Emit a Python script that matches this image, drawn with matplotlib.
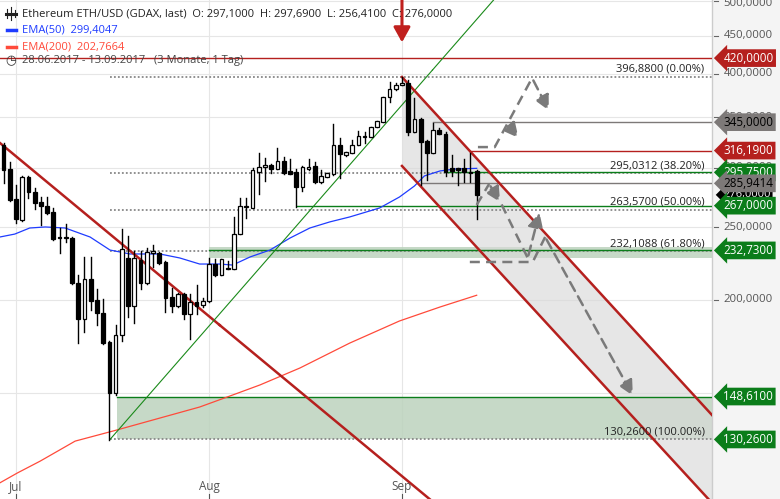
import matplotlib
matplotlib.use("Agg")
import matplotlib.pyplot as plt
from matplotlib.patches import Rectangle
from matplotlib.lines import Line2D

plt.rcParams['font.family'] = ['Open Sans', 'DejaVu Sans']

# ---- data: daily candles (day 0 = 1 Jul 2017), first = 29 Jun ----
start_day = -2
opens  = [321.7,298.8,272.5,255.5,291.6,278.4,270.0,266.7,261.9,242.5,241.7,241.7,210.5,188.5,213.2,199.8,192.0,175.6,150.2,179.4,
          227.4,196.2,226.0,210.5,230.9,230.9,224.6,201.7,196.2,203.6,191.4,198.6,196.8,199.2,223.2,215.8,220.5,219.8,244.7,265.9,
          265.1,296.1,300.7,302.5,298.8,306.2,297.0,296.1,282.8,298.8,301.6,287.2,291.6,294.3,321.7,311.9,313.8,321.7,329.7,329.7,
          340.0,345.2,372.7,382.0,386.7,389.1,334.8,348.4,325.6,313.8,336.8,332.7,299.8,299.8,299.8,296.1,297.1]
highs  = [323.6,305.3,284.5,292.5,292.5,281.9,274.2,274.2,265.1,249.3,252.4,242.5,215.8,228.1,228.1,206.7,200.4,176.0,185.1,248.6,
          243.2,232.3,232.3,234.4,236.6,231.6,225.3,207.5,204.0,204.0,203.6,209.3,201.1,227.4,226.7,227.0,225.3,257.9,273.4,273.4,
          299.8,313.8,309.1,303.0,318.7,310.0,308.1,298.8,301.6,308.1,305.3,297.9,295.5,343.1,328.7,315.0,326.6,335.8,334.8,340.3,
          346.6,373.0,390.5,389.1,396.3,392.7,371.6,349.4,326.6,344.2,339.2,334.8,311.9,300.1,308.1,313.8,297.69]
lows   = [286.3,270.9,253.2,254.7,273.4,264.3,251.6,260.2,240.0,230.9,238.8,210.0,175.1,181.1,193.8,185.1,174.5,130.0,149.3,176.2,
          189.7,186.2,206.7,209.8,221.2,223.2,192.6,192.6,195.8,188.5,177.2,191.4,195.6,198.8,215.2,215.5,219.5,219.5,244.4,257.1,
          264.8,276.7,288.1,295.2,298.5,294.3,294.0,265.9,279.3,297.9,286.3,286.5,291.3,293.8,290.7,311.0,313.5,321.4,323.6,329.4,
          339.7,344.9,367.1,381.0,386.4,331.7,334.5,284.5,288.9,313.5,332.5,292.5,292.5,284.5,287.2,287.2,256.41]
closes = [297.9,271.7,256.3,291.6,278.4,269.2,266.7,261.1,241.0,241.7,242.5,210.5,188.5,213.2,199.2,192.0,175.1,150.2,179.4,233.7,
          196.2,227.4,210.5,231.6,232.3,223.9,201.1,196.2,203.6,191.4,198.6,196.2,199.2,223.2,215.8,226.7,219.8,244.7,266.7,266.3,
          297.9,300.7,302.5,298.8,306.2,295.2,294.3,282.8,300.7,300.7,287.2,292.5,295.2,321.7,312.9,314.8,321.7,330.7,330.7,340.0,
          346.3,372.7,382.0,386.7,389.1,334.8,348.4,324.6,313.8,336.8,332.7,296.1,297.0,297.9,296.1,295.2,276.0]

ema50_days  = [-2.6,-0.2,2.2,4.7,7.9,11.9,15.1,18.3,23.1,26.3,29.5,32.7,34.8,37.6,40.8,44.0,47.2,50.4,53.6,58.4,61.6,64.0,65.6,68.1,70.5,74.0]
ema50_vals  = [242.5,244.7,249.3,250.1,249.3,242.5,233.0,230.2,230.2,227.4,223.2,223.2,222.5,228.1,233.0,241.7,249.3,254.0,257.9,265.1,274.2,283.6,292.5,297.0,298.8,299.4]
ema200_days = [-2.6,0.2,3.9,9.5,16.2,23.1,29.5,34.8,39.2,45.6,53.6,61.6,68.1,74.0]
ema200_vals = [114.0,117.5,121.9,129.6,134.1,139.1,143.9,149.3,154.0,162.2,175.1,187.4,195.6,202.8]

fib_levels = [396.88, 295.0312, 263.57, 232.1088, 130.26]
fib_labels = ["396,8800 (0.00%)", "295,0312 (38.20%)", "263,5700 (50.00%)", "232,1088 (61.80%)", "130,2600 (100.00%)"]

# level, color, start day
level_vals   = [420.0, 345.0, 316.19, 295.75, 285.9414, 267.0, 232.73, 148.61, 130.26]
level_colors = ['red', 'grey', 'red', 'green', 'grey', 'green', 'green', 'green', 'green']
level_starts = [-3, 67.0, 72.9, 69.2, 65.2, 45.1, 31.0, 16.2, None]
level_texts  = ["420,0000", "345,0000", "316,1900", "295,7500", "285,9414", "267,0000", "232,7300", "148,6100", "130,2600"]

axis_ticks = [500, 450, 400, 350, 300, 250, 200]
months = ["Jul", "Aug", "Sep"]
month_days = [0, 31, 62]

# trend lines (day, price)
down_trend = ([-2.57, 32.7], [323.6, 185.1])
up_trend = ([15.1, 66.9], [130.26, 404.9])
chan_upper = ([62.0, 111.8], [396.3, 140.4])
chan_lower = ([62.0, 111.8], [301.6, 107.2])

path_a = ([74.2, 76.9, 82.9], [319.6, 319.6, 395.1]); arrow_a = ((82.9, 395.1), (85.8, 354.9))
arrow_a2 = ((78.9, 343.1), (81.0, 326.6))
path_b = ([74.0, 76.0], [267.6, 285.4]); arrow_b = ((76.0, 285.4), (78.0, 268.0))
path_b2 = ([78.0, 82.2], [268.0, 227.4]); arrow_b2 = ((82.2, 227.4), (84.2, 263.5))
path_c = ([72.9, 83.0, 85.0], [224.6, 224.6, 242.5]); arrow_c = ((85.0, 242.5), (99.3, 147.9))

RED = '#b5201e'; GREEN = '#0b7d1a'; GREY = '#7d7978'
cmap = {'red': RED, 'green': GREEN, 'grey': GREY}

W, H = 780, 499
fig = plt.figure(figsize=(W/100, H/100), dpi=100, facecolor='#f4f4f4')
ax = fig.add_axes([0, 0, 712/W, 1])
ax.set_yscale('log')
ax.set_xlim(-2.57, 111.8)
ax.set_ylim(108.5, 502)
ax.axis('off')
ax.add_patch(Rectangle((0, 0), 1, 1, transform=ax.transAxes, facecolor='white', zorder=-10))

for g in [150, 200, 250, 300, 350, 400, 450, 500]:
    ax.axhline(g, color='#e6e6e6', lw=0.8, zorder=0)
for d in month_days:
    ax.axvline(d, color='#e6e6e6', lw=0.8, zorder=0)

xmax = 111.8
ax.add_patch(Rectangle((31.0, 227.4), xmax - 31.0, 235.5 - 227.4, facecolor='#bcd3bd', alpha=0.85, zorder=1))
ax.add_patch(Rectangle((16.2, 130.26), xmax - 16.2, 148.61 - 130.26, facecolor='#bcd3bd', alpha=0.85, zorder=1))
ax.fill_between(chan_upper[0], chan_upper[1], chan_lower[1], color='#d9d9d9', alpha=0.65, zorder=1, lw=0)

for lv, lb in zip(fib_levels, fib_labels):
    ax.plot([15.1, xmax], [lv, lv], color='#888888', ls=(0, (1, 1.2)), lw=1.3, zorder=2)
    ax.text(110.6, lv * 1.006, lb, ha='right', va='bottom', fontsize=8, color='#222222', zorder=6)

for lv, c, s in zip(level_vals, level_colors, level_starts):
    if s is None:
        continue
    ax.plot([s, xmax], [lv, lv], color=cmap[c], lw=1.0, zorder=3)

ax.plot(ema50_days, ema50_vals, color='#1f3cff', lw=0.9, zorder=4)
ax.plot(ema200_days, ema200_vals, color='#ff4a3a', lw=0.9, zorder=4)

ax.plot(*down_trend, color=RED, lw=1.8, zorder=4)
ax.plot([32.7, 80], [185.1, 185.1 * (185.1 / 323.6) ** ((80 - 32.7) / 35.27)], color=RED, lw=1.8, zorder=4)
ax.plot(*up_trend, color='#1a8a1a', lw=0.8, zorder=4)
ax.plot([66.9, 80], [404.9, 404.9 * (404.9 / 130.26) ** (13.1 / 51.8)], color='#1a8a1a', lw=0.8, zorder=4)
ax.plot(*chan_upper, color=RED, lw=1.8, zorder=5)
ax.plot(*chan_lower, color=RED, lw=1.8, zorder=5)

for i, (o, h, l, c) in enumerate(zip(opens, highs, lows, closes)):
    x = start_day + i
    ax.plot([x, x], [l, h], color='black', lw=1.0, zorder=6)
    lo, hi = min(o, c), max(o, c)
    if hi / lo < 1.004:
        hi = lo * 1.004
    face = 'black' if c < o else 'white'
    ax.add_patch(Rectangle((x - 0.3, lo), 0.6, hi - lo, facecolor=face, edgecolor='black', lw=0.9, zorder=7))

dash = dict(color='#7a7a7a', lw=1.8, ls=(0, (4, 2.5)), zorder=8)
aprops = dict(arrowstyle='-|>,head_width=0.45,head_length=0.9', color='#7a7a7a', lw=1.8, ls=(0, (4, 2.5)))
ax.plot(*path_a, **dash)
ax.plot(*path_b, **dash)
ax.plot(*path_b2, **dash)
ax.plot(*path_c, **dash)
for s, e in [arrow_a, arrow_a2, arrow_b, arrow_b2, arrow_c]:
    ax.annotate('', xy=e, xytext=s, arrowprops=aprops, zorder=8)

ax.annotate('', xy=(62.0, 437), xytext=(62.0, 520),
            arrowprops=dict(arrowstyle='-|>,head_width=0.5,head_length=0.9', color='#c0201e', lw=2.2), zorder=9)

# right panel
ytr = ax.get_yaxis_transform()
ax.plot([1, 1], [0, 1], transform=ax.transAxes, color='#cccccc', lw=1, clip_on=False)
for t in axis_ticks:
    ax.plot([1.003, 1.009], [t, t], transform=ytr, color='#666666', lw=0.8, clip_on=False)
    ax.text(1.016, t * (0.994 if t == 500 else 1.0), f"{t},0000", transform=ytr, fontsize=8.2, color='#555555',
            va='center', ha='left', clip_on=False, zorder=10)
ax.text(1.016, 276.0, "276,0000", transform=ytr, fontsize=8, color='white', va='center', ha='left', clip_on=False,
        zorder=10, bbox=dict(boxstyle='larrow,pad=0.15', fc='black', ec='none'))
for lv, c, tx in zip(level_vals, level_colors, level_texts):
    tc = 'black' if c == 'grey' else 'white'
    ax.text(1.016, lv, tx, transform=ytr, fontsize=8.4, color=tc, va='center', ha='left', clip_on=False, zorder=11,
            bbox=dict(boxstyle='larrow,pad=0.2', fc=cmap[c], ec='none'))

xtr = ax.get_xaxis_transform()
for d, m in zip(month_days, months):
    ax.text(d, 0.025, m, transform=xtr, ha='center', va='center', fontsize=8.5, color='#555555', zorder=10)
    ax.plot([d, d], [0, 0.01], transform=xtr, color='#555555', lw=0.8)

# legend (candle icon drawn as small strokes)
for k, (yb, yt) in enumerate([(0.963, 0.982), (0.960, 0.985), (0.965, 0.980)]):
    fig.add_artist(Line2D([0.009 + k * 0.005] * 2, [yb, yt], color='#222222', lw=0.8))
    fig.add_artist(Line2D([0.0075 + k * 0.005, 0.0105 + k * 0.005], [(yb + yt) / 2] * 2, color='#222222', lw=2.2))
fig.text(0.028, 0.972, "Ethereum ETH/USD (GDAX, last)  O: 297,1000  H: 297,6900  L: 256,4100  C: 276,0000",
         fontsize=8, color='#222222', va='center')
fig.add_artist(Line2D([0.009, 0.02], [0.939, 0.939], color='#1f3cff', lw=2.5))
fig.text(0.028, 0.939, "EMA(50)  299,4047", fontsize=8, color='#1f3cff', va='center')
fig.add_artist(Line2D([0.009, 0.02], [0.906, 0.906], color='#ff4a3a', lw=2.5))
fig.text(0.028, 0.906, "EMA(200)  202,7664", fontsize=8, color='#ff4a3a', va='center')
fig.text(0.007, 0.878, "◷", fontsize=9, color='#333333', va='center', family='DejaVu Sans')
fig.text(0.028, 0.878, "28.06.2017 - 13.09.2017   (3 Monate, 1 Tag)", fontsize=8, color='#444444', va='center')

fig.savefig("out.png", dpi=100, facecolor=fig.get_facecolor())
